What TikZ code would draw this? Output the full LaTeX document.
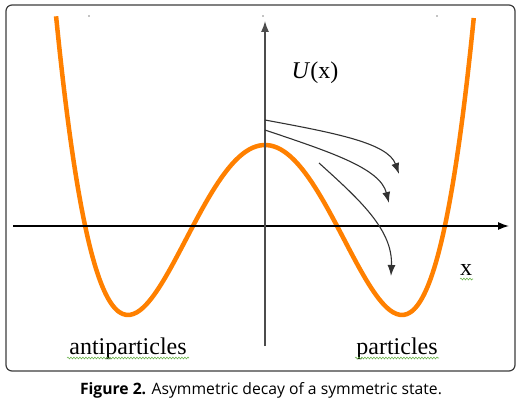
\documentclass[tikz,border=0pt]{standalone}
\usepackage{fontspec}
\setmainfont{Liberation Serif}
\newfontfamily\capfont{Open Sans}
\usetikzlibrary{arrows.meta,decorations.pathmorphing}
\definecolor{curveorange}{RGB}{255,128,0}
\definecolor{framegray}{RGB}{60,60,60}
\definecolor{arrowgray}{RGB}{50,50,50}
\definecolor{squiggle}{RGB}{110,180,80}
\begin{document}
\begin{tikzpicture}[x=1pt,y=-1pt,
  axisline/.style={line width=1.3pt},
  decayarrow/.style={line width=1.1pt,draw=arrowgray,-{Latex[length=11pt,width=8pt]}},
  potential/.style={line width=4.5pt,draw=curveorange,line join=round},
  lbl/.style={font=\fontsize{24}{28}\selectfont,inner sep=0pt,anchor=base},
  spell/.style={draw=squiggle,line width=0.6pt,decorate,decoration={snake,segment length=3pt,amplitude=0.9pt}},
  dotmark/.style={fill=black,inner sep=0pt,minimum size=1.4pt,circle}]
\useasboundingbox (0,0) rectangle (522,404);
% frame
\draw[framegray,line width=1.2pt,rounded corners=6pt] (6,5) rectangle (515,371);
% tiny dots
\node[dotmark] (d1) at (89,16) {};
\node[dotmark] (d2) at (263,16) {};
\node[dotmark] (d3) at (437,16) {};
% potential curve
\draw[potential] plot[smooth,samples=120,domain=-1.525:1.525]
  ({265+137*\x},{145+170*(2*\x*\x-\x*\x*\x*\x)});
% axes
\coordinate (xstart) at (13,226);
\coordinate (xend) at (509,226);
\coordinate (ystart) at (265,346);
\coordinate (yend) at (265,21);
\draw[axisline,-{Latex[length=11pt,width=8pt]}] (xstart) -- (xend);
\draw[axisline,draw=black!70,-{Latex[length=11pt,width=8pt]}] (ystart) -- (yend);
% decay arrows
\coordinate (a1s) at (265,120);
\coordinate (a1e) at (399,174);
\coordinate (a2s) at (265,130);
\coordinate (a2e) at (389,203);
\coordinate (a3s) at (319,163);
\coordinate (a3e) at (391,276);
\draw[decayarrow] (a1s) .. controls (335,133) and (388,143) .. (a1e);
\draw[decayarrow] (a2s) .. controls (330,152) and (380,168) .. (a2e);
\draw[decayarrow] (a3s) .. controls (360,200) and (393,230) .. (a3e);
% labels
\node[lbl] (ux) at (315,78) {\textit{U}(x)};
\node[lbl] (xl) at (466,275) {x};
\node[lbl] (anti) at (128,354) {antiparticles};
\node[lbl] (part) at (397,354) {particles};
\draw[spell] (460,279) -- (473,279);
\draw[spell] (67,358) -- (189,358);
\draw[spell] (355,358) -- (439,358);
% caption
\node[inner sep=0pt,anchor=base,font=\capfont\fontsize{15.7}{18}\selectfont] (cap) at (261,394)
  {\textbf{Figure 2.} Asymmetric decay of a symmetric state.};
\end{tikzpicture}
\end{document}
